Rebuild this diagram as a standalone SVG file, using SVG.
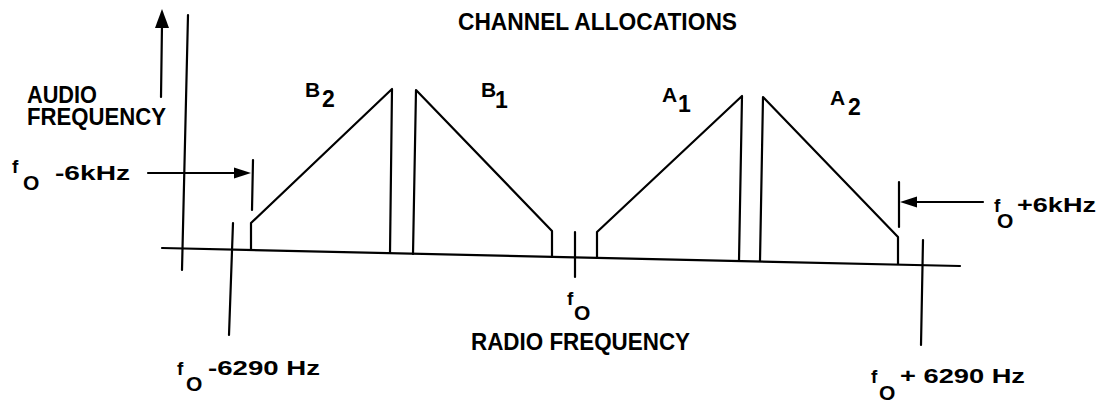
<svg xmlns="http://www.w3.org/2000/svg" width="1109" height="402" viewBox="0 0 1109 402">
<style>
  .ln{stroke:#000;stroke-width:2.2;fill:none;stroke-linecap:round;stroke-linejoin:round}
  .hd{fill:#000;stroke:none}
  text{font-family:"Liberation Sans",Arial,sans-serif;font-weight:bold;fill:#000}
  .lab{font-size:24px}
  .mid{font-size:21px}
  .sub{font-size:23px}
  .f{font-size:19px}
  .o{font-size:21px}
</style>
<rect width="1109" height="402" fill="#fff"/>

<g id="title"><text class="lab" x="458" y="30" textLength="279" lengthAdjust="spacingAndGlyphs">CHANNEL ALLOCATIONS</text></g>

<g id="axes">
  <line class="ln" x1="188" y1="15" x2="182" y2="270"/>
  <line class="ln" x1="162" y1="248" x2="960" y2="266"/>
  <line class="ln" x1="233" y1="223" x2="229" y2="335"/>
  <line class="ln" x1="575" y1="232" x2="575" y2="277"/>
  <line class="ln" x1="923" y1="240" x2="921" y2="345"/>
</g>

<g id="audio-axis">
  <line class="ln" x1="161" y1="97" x2="162" y2="24" stroke-width="3"/>
  <polygon class="hd" points="162,9 155,28 169,28"/>
  <text class="lab" x="27" y="103" textLength="70" lengthAdjust="spacingAndGlyphs">AUDIO</text>
  <text class="lab" x="27" y="125" textLength="139" lengthAdjust="spacingAndGlyphs">FREQUENCY</text>
</g>

<g id="B2">
  <polyline class="ln" points="251,250 251,223 392,89 390,253"/>
  <text class="mid" x="305" y="97">B</text><text class="sub" x="322" y="107">2</text>
</g>
<g id="B1">
  <polyline class="ln" points="413,254 416,90 552,231 552,257"/>
  <text class="mid" x="481" y="97">B</text><text class="sub" x="495" y="108">1</text>
</g>
<g id="A1">
  <polyline class="ln" points="597,258 597,232 742,96 739,261"/>
  <text class="mid" x="662" y="102">A</text><text class="sub" x="678" y="112">1</text>
</g>
<g id="A2">
  <polyline class="ln" points="760,261 763,97 898,237 898,264"/>
  <text class="mid" x="830" y="105">A</text><text class="sub" x="848" y="115">2</text>
</g>

<g id="connectors">
  <line class="ln" x1="148" y1="173" x2="238" y2="173"/>
  <polygon class="hd" points="251,173 234,167.5 234,178.5"/>
  <line class="ln" x1="253" y1="160" x2="252" y2="210"/>
  <line class="ln" x1="983" y1="202" x2="912" y2="202"/>
  <polygon class="hd" points="900,202 917,196.5 917,207.5"/>
  <line class="ln" x1="899" y1="182" x2="899" y2="227"/>
</g>

<g id="label-minus6k">
  <text class="f" x="12" y="173">f</text><text class="o" x="23" y="190">O</text>
  <text class="mid" x="55" y="180" textLength="75" lengthAdjust="spacingAndGlyphs">-6kHz</text>
</g>
<g id="label-plus6k">
  <text class="f" x="994" y="212">f</text><text class="o" x="997" y="228">O</text>
  <text class="mid" x="1017" y="212" textLength="79" lengthAdjust="spacingAndGlyphs">+6kHz</text>
</g>
<g id="label-f0">
  <text class="f" x="567" y="305">f</text><text class="o" x="574" y="320">O</text>
  <text class="lab" x="471" y="350" textLength="219" lengthAdjust="spacingAndGlyphs">RADIO FREQUENCY</text>
</g>
<g id="label-minus6290">
  <text class="f" x="177" y="375">f</text><text class="o" x="186" y="391">O</text>
  <text class="mid" x="208" y="375" textLength="112" lengthAdjust="spacingAndGlyphs">-6290 Hz</text>
</g>
<g id="label-plus6290">
  <text class="f" x="871" y="383">f</text><text class="o" x="879" y="400">O</text>
  <text class="mid" x="900" y="383" textLength="125" lengthAdjust="spacingAndGlyphs">+ 6290 Hz</text>
</g>
</svg>
